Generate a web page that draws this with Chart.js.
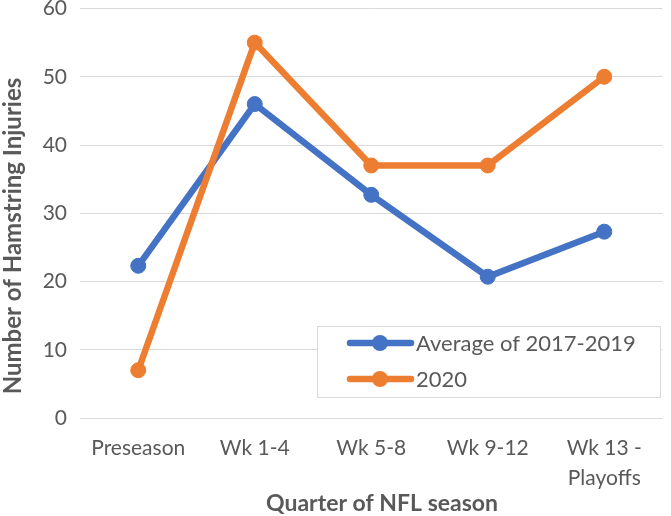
<!DOCTYPE html>
<html lang="en">
<head>
  <meta charset="UTF-8">
  <title>Hamstring injuries by quarter of NFL season</title>
  <script src="https://cdn.jsdelivr.net/npm/chart.js"></script>
  <style>
    html, body { margin: 0; padding: 0; background: #fff; }
    #wrap { width: 671px; height: 516px; }
  </style>
</head>
<body>
<div id="wrap"><canvas id="chart" width="671" height="516"></canvas></div>
<script>
const quarters = ["Preseason", "Wk 1-4", "Wk 5-8", "Wk 9-12", ["Wk 13 -", "Playoffs"]];
const avg2017to2019 = [22.3, 46, 32.7, 20.7, 27.3];
const season2020 = [7, 55, 37, 37, 50];
const seriesNames = ["Average of 2017-2019", "2020"];
const yTicks = [0, 10, 20, 30, 40, 50, 60];
const xTitle = "Quarter of NFL season";
const yTitle = "Number of Hamstring Injuries";

const BLUE = "#4472C4";
const ORANGE = "#ED7D31";
const GREY_TEXT = "#595959";
const FONT = "Lato, 'Open Sans', sans-serif";

// axis titles sit a little off-centre in the original, so draw them by hand
const axisTitles = {
  id: "axisTitles",
  afterDraw(chart) {
    const ctx = chart.ctx;
    ctx.save();
    ctx.fillStyle = GREY_TEXT;
    ctx.font = "bold 23px " + FONT;
    ctx.textAlign = "center";
    ctx.textBaseline = "middle";
    ctx.fillText(xTitle, 382, 504);
    ctx.translate(13, 236);
    ctx.rotate(-Math.PI / 2);
    ctx.font = "bold 24px " + FONT;
    ctx.fillText(yTitle, 0, 0);
    ctx.restore();
  }
};

// legend drawn inside the plot area, bottom right, like the original
const insideLegend = {
  id: "insideLegend",
  afterDraw(chart) {
    const ctx = chart.ctx;
    const box = { x: 317, y: 326, w: 343, h: 71 };
    ctx.save();
    ctx.fillStyle = "#fff";
    ctx.fillRect(box.x, box.y, box.w, box.h);
    ctx.strokeStyle = "#d9d9d9";
    ctx.lineWidth = 1;
    ctx.strokeRect(box.x + 0.5, box.y + 0.5, box.w, box.h);
    chart.data.datasets.forEach((ds, i) => {
      const y = box.y + 17 + i * 36;
      ctx.strokeStyle = ds.borderColor;
      ctx.lineWidth = 6.5;
      ctx.lineCap = "round";
      ctx.beginPath();
      ctx.moveTo(350, y);
      ctx.lineTo(411, y);
      ctx.stroke();
      ctx.fillStyle = ds.borderColor;
      ctx.beginPath();
      ctx.arc(380, y, 8, 0, Math.PI * 2);
      ctx.fill();
      ctx.fillStyle = GREY_TEXT;
      ctx.font = "22px " + FONT;
      ctx.textBaseline = "middle";
      ctx.fillText(ds.label, 416, y + 1);
    });
    ctx.restore();
  }
};

new Chart(document.getElementById("chart"), {
  type: "line",
  data: {
    labels: quarters,
    datasets: [
      {
        label: seriesNames[0],
        data: avg2017to2019,
        borderColor: BLUE,
        backgroundColor: BLUE,
        borderWidth: 6.5,
        pointRadius: 7.5,
        pointBorderWidth: 1,
        order: 1
      },
      {
        label: seriesNames[1],
        data: season2020,
        borderColor: ORANGE,
        backgroundColor: ORANGE,
        borderWidth: 6.5,
        pointRadius: 7.5,
        pointBorderWidth: 1,
        order: 0
      }
    ]
  },
  options: {
    responsive: false,
    animation: false,
    layout: { padding: { top: 8, right: 2, left: 0, bottom: 0 } },
    plugins: {
      legend: { display: false },
      tooltip: { enabled: false }
    },
    scales: {
      x: {
        offset: true,
        grid: { display: false, drawTicks: false },
        border: { display: false },
        ticks: {
          color: GREY_TEXT,
          font: { family: FONT, size: 21, lineHeight: 1.4 },
          padding: 16,
          maxRotation: 0,
          autoSkip: false
        },
        afterFit(scale) {
          scale.height = 98;
          scale.paddingLeft = 0;
          scale.paddingRight = 0;
        }
      },
      y: {
        min: 0,
        max: 60,
        afterBuildTicks(scale) {
          scale.ticks = yTicks.map(v => ({ value: v }));
        },
        grid: { color: "#d9d9d9", lineWidth: 1, drawTicks: false },
        border: { display: false },
        ticks: {
          color: GREY_TEXT,
          font: { family: FONT, size: 21 },
          padding: 13
        },
        afterFit(scale) {
          scale.width = 80;
          scale.paddingTop = 0;
          scale.paddingBottom = 0;
        }
      }
    }
  },
  plugins: [axisTitles, insideLegend]
});
</script>
</body>
</html>
